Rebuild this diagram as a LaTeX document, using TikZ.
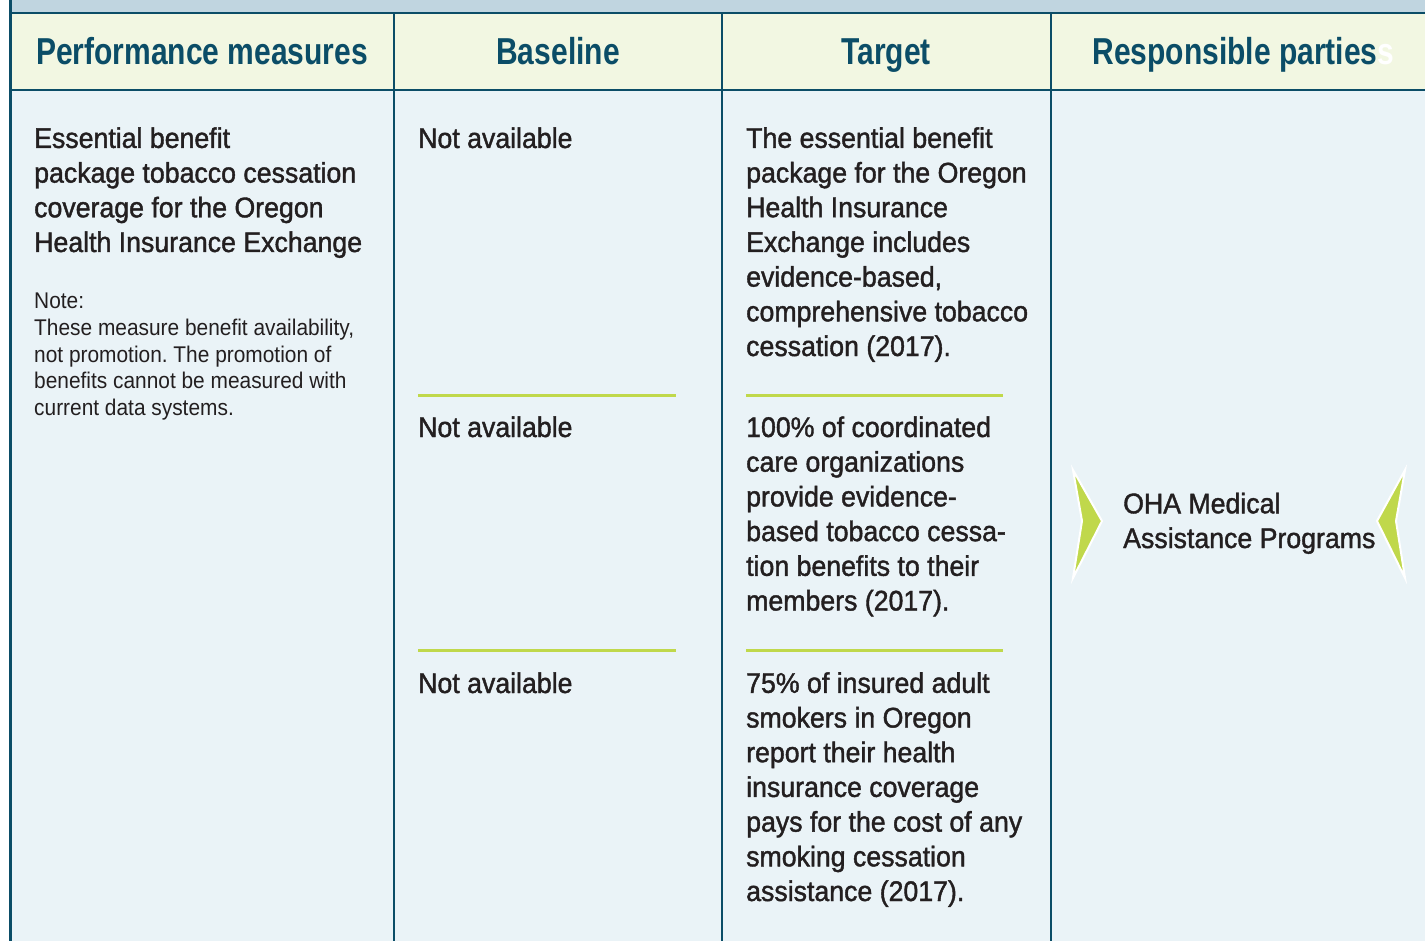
\documentclass[tikz,border=0pt]{standalone}
\usepackage{fontspec}
\setmainfont{Liberation Sans}
\newfontfamily\headfont{Liberation Sans}[FakeStretch=0.8]
\newfontfamily\cellfont{Liberation Sans}[FakeStretch=0.94,FakeBold=1.4]
\newfontfamily\notefont{Liberation Sans}[FakeStretch=0.92]
\usetikzlibrary{positioning}
\frenchspacing

\definecolor{ohateal}{HTML}{0B4D67}
\definecolor{ohastrip}{HTML}{C0D5E0}
\definecolor{ohahead}{HTML}{F2F7E2}
\definecolor{ohabody}{HTML}{EAF3F7}
\definecolor{ohagreen}{HTML}{C0D84B}
\definecolor{ohatext}{HTML}{231F20}

\begin{document}
\begin{tikzpicture}
  [x=1pt,y=-1pt,
   every node/.style={inner sep=0pt,anchor=base west,align=left},
   head/.style={anchor=base,text=ohateal,font=\headfont\bfseries\fontsize{37.5}{40}\selectfont},
   cell/.style={text=ohatext,font=\cellfont\fontsize{28.4}{34.7}\selectfont},
   note/.style={text=ohatext,font=\notefont\fontsize{22.7}{26.7}\selectfont},
   grid/.style={draw=ohateal,line width=2.6pt},
   rule/.style={draw=ohagreen,line width=3pt},
   chev/.style={fill=ohagreen,draw=white,line width=2pt}]
  \useasboundingbox (0,0) rectangle (1425,941);
  \fill[white] (0,0) rectangle (1425,941);
  \fill[ohastrip] (10,0) rectangle (1425,13);
  \fill[ohahead] (10,13) rectangle (1425,90);
  \fill[ohabody] (10,90) rectangle (1425,941);

  % table lines
  \draw[grid] (10.5,0) -- (10.5,941);
  \draw[grid] (10,13) -- (1425,13);
  \draw[grid] (10,90) -- (1425,90);
  \foreach \x in {394,722,1051}
    \draw[grid] (\x,13) -- (\x,941);

  \node[head] (hmeasure) at (202,65) {Performance measures};
  \node[head] (hbase) at (558,65) {Baseline};
  \node[head] (htarget) at (886,65) {Target};
  \node[head] (hparty) at (1235,65) {Responsible parties};
  \node[head,anchor=base west,text=white] (hghost) at (hparty.base east) {s};

  % multi-line nodes sit on their last baseline
  \node[cell] (measure) at (34,252)
    {Essential benefit\\package tobacco cessation\\coverage for the Oregon\\Health Insurance Exchange};
  \node[note] (note) at (34,415.5)
    {Note:\\These measure benefit availability,\\not promotion. The promotion of\\benefits cannot be measured with\\current data systems.};

  \node[cell] (base1) at (418,148) {Not available};
  \node[cell] (base2) at (418,437) {Not available};
  \node[cell] (base3) at (418,693) {Not available};

  \node[cell] (target1) at (746,356)
    {The essential benefit\\package for the Oregon\\Health Insurance\\Exchange includes\\evidence-based,\\comprehensive tobacco\\cessation (2017).};
  \node[cell] (target2) at (746,610.5)
    {100\% of coordinated\\care organizations\\provide evidence-\\based tobacco cessa-\\tion benefits to their\\members (2017).};
  \node[cell] (target3) at (746,901)
    {75\% of insured adult\\smokers in Oregon\\report their health\\insurance coverage\\pays for the cost of any\\smoking cessation\\assistance (2017).};

  \foreach \y in {395,650} {
    \draw[rule] (418,\y) -- (676,\y);
    \draw[rule] (746,\y) -- (1003,\y);
  }

  \node[cell] (party) at (1123,548) {OHA Medical\\Assistance Programs};
  \draw[chev] (1073,470) -- (1102,521) -- (1073,578) -- (1082,521) -- cycle;
  \draw[chev] (1405,470) -- (1377,521) -- (1405,578) -- (1396,521) -- cycle;
\end{tikzpicture}
\end{document}
